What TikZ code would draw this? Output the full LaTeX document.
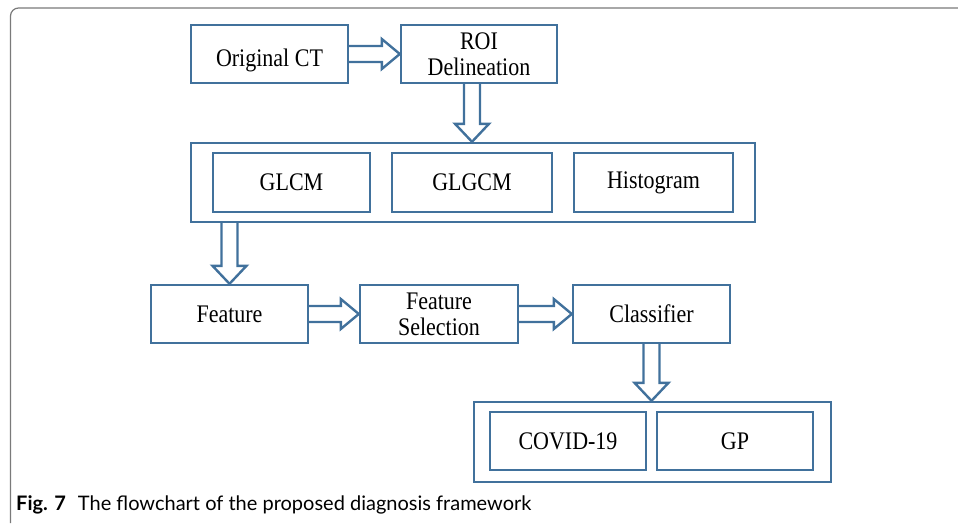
\documentclass[tikz,border=0pt]{standalone}
\usepackage{fontspec}
\usepackage{graphicx}
\setmainfont{Liberation Serif}
\newfontfamily\capfont{Lato}
\usetikzlibrary{calc}
\definecolor{boxblue}{HTML}{41719C}
\definecolor{framegray}{HTML}{7A7A7A}
\newcommand\st[1]{\scalebox{1}[1.15]{#1}}
\tikzset{
  box/.style={draw=boxblue, line width=2.4pt, fill=white, inner sep=0pt,
    font=\fontsize{22}{26}\selectfont, align=center, text=black},
  barrow/.style={draw=boxblue, line width=2.4pt, fill=white, line join=miter},
}
\newcommand\arrowright[2]{%
  \draw[barrow] let \p1=(#1), \p2=(#2) in
    (\x1,\y1+8) -- (\x2-18,\y1+8) -- (\x2-18,\y1+15) -- (\x2,\y1)
    -- (\x2-18,\y1-15) -- (\x2-18,\y1-8) -- (\x1,\y1-8);}
\newcommand\arrowdown[2]{%
  \draw[barrow] let \p1=(#1), \p2=(#2) in
    (\x1-8,\y1) -- (\x1-8,\y2+18) -- (\x1-17,\y2+18) -- (\x1,\y2)
    -- (\x1+17,\y2+18) -- (\x1+8,\y2+18) -- (\x1+8,\y1);}
\begin{document}
\begin{tikzpicture}[x=1pt,y=-1pt]
\useasboundingbox (0,0) rectangle (958,523);
% frame
\draw[framegray, line width=1.2pt, rounded corners=8pt] (958,8) -- (10.5,8) -- (10.5,523);
% top row
\node[box, minimum width=157pt, minimum height=58pt, text height=27pt, text depth=2pt] (oct) at (269.5,54) {\st{Original CT}};
\node[box, minimum width=156pt, minimum height=58pt] (roi) at (479,54) {\st{ROI}\\\st{Delineation}};
% feature extraction group
\node[box, minimum width=564pt, minimum height=79pt] (big) at (473,182.5) {};
\node[box, minimum width=157pt, minimum height=59pt] (glcm) at (291.5,182.5) {\st{GLCM}};
\node[box, minimum width=160pt, minimum height=59pt] (glgcm) at (472,182.5) {\st{GLGCM}};
\node[box, minimum width=159pt, minimum height=59pt] (hist) at (653.5,182.5) {\st{Histogram}};
% middle row
\node[box, minimum width=157pt, minimum height=58pt] (feat) at (229.5,314) {\st{Feature}};
\node[box, minimum width=158pt, minimum height=58pt] (fsel) at (439,314) {\st{Feature}\\\st{Selection}};
\node[box, minimum width=157pt, minimum height=58pt] (cls) at (651.5,314) {\st{Classifier}};
% result group
\node[box, minimum width=357pt, minimum height=80pt] (bot) at (652.5,442) {};
\node[box, minimum width=156pt, minimum height=58pt] (covid) at (568,441) {\st{COVID-19}};
\node[box, minimum width=156pt, minimum height=58pt] (gp) at (735,441) {\st{GP}};
% connector end points
\coordinate (roiS) at ($(roi.south)+(-7,0)$);
\coordinate (bigN) at (roiS|-big.north);
\coordinate (bigS) at (big.south-|feat.north);
\coordinate (botN) at (cls.south|-bot.north);
% connectors
\arrowright{oct.east}{roi.west}
\arrowdown{roiS}{bigN}
\arrowdown{bigS}{feat.north}
\arrowright{feat.east}{fsel.west}
\arrowright{fsel.east}{cls.west}
\arrowdown{cls.south}{botN}
% caption
\node[anchor=base west, inner sep=0pt, font=\capfont\fontsize{20}{24}\selectfont] (cap) at (16,510)
  {\textbf{Fig. 7}\hspace{0.6em}The flowchart of the proposed diagnosis framework};
\end{tikzpicture}
\end{document}
